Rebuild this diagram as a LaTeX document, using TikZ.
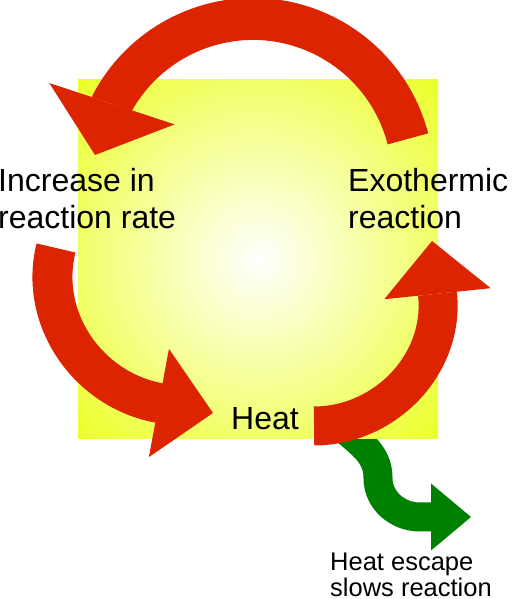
\documentclass[tikz,border=0pt]{standalone}
\usepackage{fontspec}
\setmainfont{Liberation Sans}
\usetikzlibrary{arrows.meta}
\definecolor{loopred}{RGB}{221,36,0}
\definecolor{escgreen}{RGB}{0,128,0}
\definecolor{glowyellow}{RGB}{232,255,0}
\pgfdeclareradialshading{glow}{\pgfpoint{0bp}{0bp}}{%
  color(0bp)=(white); color(42bp)=(glowyellow); color(80bp)=(glowyellow)}

\begin{document}
\begin{tikzpicture}[x=1pt,y=1pt,
    bigtext/.style={font=\fontsize{32}{37}\selectfont,inner sep=0pt,align=left},
    smalltext/.style={font=\fontsize{25.5}{26.5}\selectfont,inner sep=0pt,align=left},
    loopline/.style={draw=loopred,line width=#1}]
    \useasboundingbox (0,0) rectangle (513,599);
    % Ends of the arrows
    \coordinate (exoOut) at (407.9,460.1);
    \coordinate (incIn) at (95,444);
    \coordinate (incOut) at (56,351);
    \coordinate (heatBase) at (159,196);
    \coordinate (heatIn) at (213,186);
    \coordinate (heatOut) at (314,173);
    \coordinate (exoBase) at (437.5,305);
    \coordinate (exoIn) at (432,358);
    \coordinate (escOut) at (338,176);
    \coordinate (escBend) at (378,121);
    \coordinate (escBase) at (420,82);
    \coordinate (escIn) at (471,82);
    % Heat escape (under the square)
    \draw[draw=escgreen,line width=29,
        -{Triangle[length=40pt,width=67pt,line width=0pt]}]
      (escOut) to[out=-45,in=90] (escBend)
      to[out=-90,in=180] (escBase) -- (escIn);
    % Background
    \shade[shading=glow] (78,160) rectangle (438,519);
    % Loop
    \draw[loopline=42,-{Triangle[length=54pt,width=132pt,line width=0pt]}]
      (exoOut) arc[start angle=14.5,end angle=151.7,radius=160] -- (incIn);
    \draw[loopline=40,-{Triangle[length=55pt,width=110pt,line width=0pt]}]
      (incOut) to[out=256,in=169.5] (heatBase) -- (heatIn);
    \draw[loopline=39,-{Triangle[length=53pt,width=107pt,line width=0pt]}]
      (heatOut) to[out=0,in=276] (exoBase) -- (exoIn);
    % Labels
    \node[bigtext,anchor=base west] (inc) at (-2,370) {Increase in\\reaction rate};
    \node[bigtext,anchor=base west] (exo) at (348,370) {Exothermic\\reaction};
    \node[bigtext,anchor=base west] (heat) at (231,169) {Heat};
    \node[smalltext,anchor=base west] (esc) at (330,2) {Heat escape\\slows reaction};
\end{tikzpicture}
\end{document}
